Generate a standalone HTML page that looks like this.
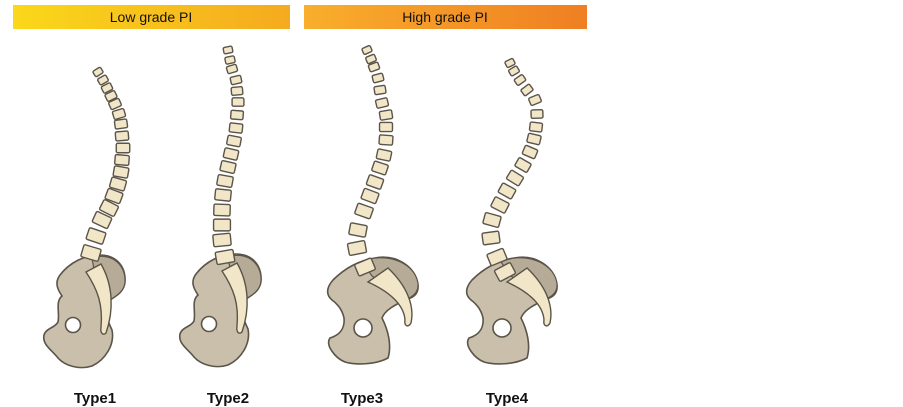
<!DOCTYPE html><html><head><meta charset="utf-8"><style>
html,body{margin:0;padding:0;background:#fff;width:903px;height:407px;overflow:hidden}
svg{display:block}
text{font-family:"Liberation Sans",sans-serif}
</style></head><body>
<svg id="s" width="903" height="407" viewBox="0 0 903 407" xmlns="http://www.w3.org/2000/svg">
<defs>
<linearGradient id="g1" x1="0" x2="1"><stop offset="0" stop-color="#fad81a"/><stop offset="1" stop-color="#f5aa1f"/></linearGradient>
<linearGradient id="g2" x1="0" x2="1"><stop offset="0" stop-color="#f9ae2c"/><stop offset="1" stop-color="#ef7f22"/></linearGradient>
<g id="p12">
<path d="M60,275 C70,262 85,255 100,255 C115,255 126,265 125,282 C124,292 116,296 110,300 C104,308 106,318 112,330 C115,345 105,360 92,366 C80,370 65,366 58,358 C52,350 42,345 44,335 C46,328 55,328 58,322 C60,312 55,302 62,296 C58,290 54,283 60,275 Z" fill="#c9bfab" stroke="#5a5449" stroke-width="1.6"/>
<path d="M92,258 C108,252 126,262 125,282 C124,292 116,296 110,300 L95,275 Z" fill="#b5ab97" stroke="#5a5449" stroke-width="1.2"/>
<circle cx="73" cy="325" r="7.5" fill="#fff" stroke="#5a5449" stroke-width="1.6"/>
<path d="M86,272 L101,264 C113,285 114,310 106,333 C103,336 100,333 101,327 C103,305 98,290 86,272 Z" fill="#f2e6c8" stroke="#5a5449" stroke-width="1.4"/>
</g>
<g id="p34">
<path d="M333,280 C345,268 360,260 375,258 C395,254 415,265 418,285 C419,295 412,298 405,300 C395,305 385,310 382,318 C388,330 392,345 388,358 C375,365 355,365 345,362 C335,358 325,345 330,338 C340,335 345,328 344,318 C342,308 335,302 332,300 C326,295 326,288 333,280 Z" fill="#c9bfab" stroke="#5a5449" stroke-width="1.6"/>
<path d="M362,262 C382,252 414,260 418,283 C419,293 412,297 405,300 L372,276 Z" fill="#b5ab97" stroke="#5a5449" stroke-width="1.2"/>
<circle cx="363" cy="328" r="9" fill="#fff" stroke="#5a5449" stroke-width="1.6"/>
<path d="M368,282 L388,268 C406,285 415,305 411,323 C408,328 404,326 405,320 C404,305 390,292 368,282 Z" fill="#f2e6c8" stroke="#5a5449" stroke-width="1.4"/>
</g>
</defs>
<rect x="13" y="5" width="277" height="24" fill="url(#g1)"/>
<rect x="304" y="5" width="283" height="24" fill="url(#g2)"/>
<text x="151" y="22" font-size="14" text-anchor="middle" fill="#111">Low grade PI</text>
<text x="445" y="22" font-size="14" text-anchor="middle" fill="#111">High grade PI</text>
<use href="#p12"/>
<use href="#p12" transform="translate(136,-1)"/>
<use href="#p34"/>
<use href="#p34" transform="translate(139,0)"/>
<g id="v"></g>
<text x="95" y="403" font-size="15" font-weight="bold" text-anchor="middle" fill="#111">Type1</text>
<text x="228" y="403" font-size="15" font-weight="bold" text-anchor="middle" fill="#111">Type2</text>
<text x="362" y="403" font-size="15" font-weight="bold" text-anchor="middle" fill="#111">Type3</text>
<text x="507" y="403" font-size="15" font-weight="bold" text-anchor="middle" fill="#111">Type4</text>
</svg>
<script>
var chains=[
[[98,72],[103,80],[107,88],[111,96],[115,104],[119,114],[121,124],[122,136],[123,148],[122,160],[121,172],[118,184],[114,196],[109,208],[102,220],[96,236],[91,253]],
[[228,50],[230,60],[232,69],[236,80],[237,91],[238,102],[237,115],[236,128],[234,141],[231,154],[228,167],[225,181],[223,195],[222,210],[222,225],[222,240],[225,257]],
[[367,50],[371,59],[374,67],[378,78],[380,90],[382,103],[386,115],[386,127],[386,140],[384,155],[380,168],[375,182],[370,196],[364,211],[358,230],[357,248],[365,267]],
[[510,63],[514,71],[520,80],[527,90],[535,100],[537,114],[536,127],[534,139],[530,152],[523,165],[515,178],[507,191],[500,205],[492,220],[491,238],[497,257],[505,272]]];
var g=document.getElementById('v'),h='';
chains.forEach(function(c){var n=c.length;c.forEach(function(p,i){
var a=c[Math.max(0,i-1)],b=c[Math.min(n-1,i+1)];
var ang=Math.atan2(b[1]-a[1],b[0]-a[0])*180/Math.PI-90;
var t=i/(n-1),w=9+9*t,hh=6.5+6*t;
h+='<rect x="'+(-w/2)+'" y="'+(-hh/2)+'" width="'+w+'" height="'+hh+'" rx="1.5" fill="#f2e6c8" stroke="#5a5449" stroke-width="1.4" transform="translate('+p[0]+','+p[1]+') rotate('+ang+')"/>';
});});
g.innerHTML=h;
</script>
</body></html>
